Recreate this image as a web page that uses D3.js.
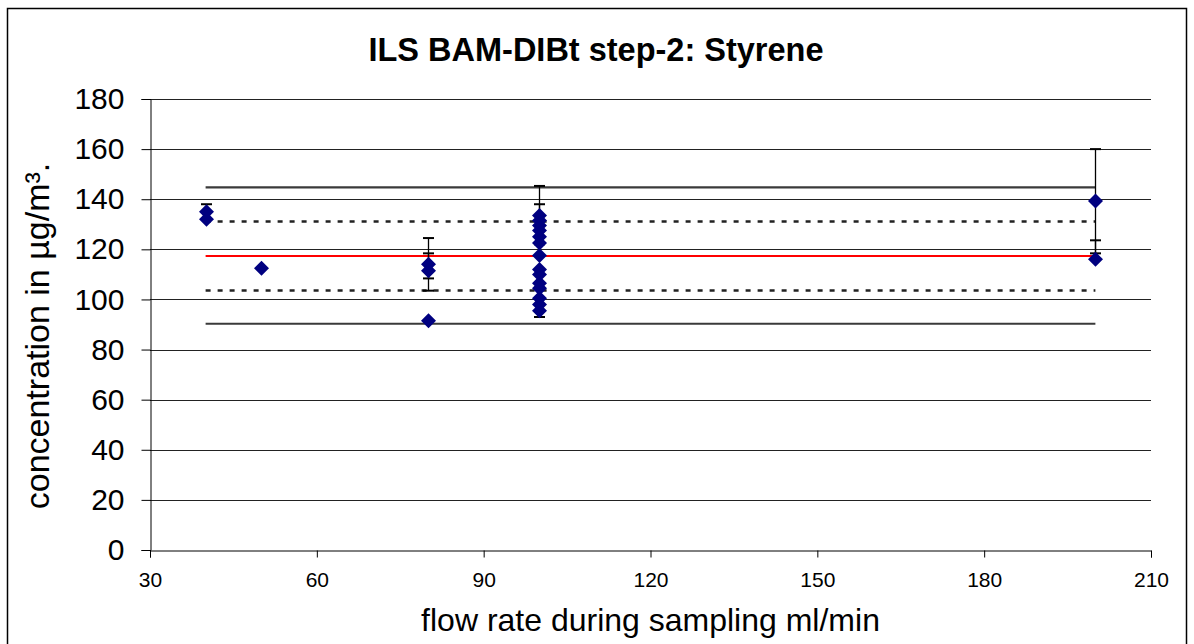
<!DOCTYPE html>
<html><head><meta charset="utf-8">
<script src="https://cdn.jsdelivr.net/npm/d3@7"></script>
<style>body{margin:0;background:#fff}svg{display:block}text{font-family:"Liberation Sans",Arial,sans-serif;fill:#000}</style>
</head><body>
<svg id="c" width="1194" height="644"></svg>
<script>
const title = "ILS BAM-DIBt step-2: Styrene";
const xTitle = "flow rate during sampling ml/min";
const yTitle = "concentration in µg/m³.";
const xTicks = [30, 60, 90, 120, 150, 180, 210];
const yTicks = [0, 20, 40, 60, 80, 100, 120, 140, 160, 180];
const flow = [40, 40, 50, 80, 80, 80,
  100, 100, 100, 100, 100, 100, 100, 100, 100, 100, 100, 100, 100, 100,
  200, 200];
const conc = [135, 132, 112.5, 114, 111.5, 91.5,
  133.5, 131.5, 129.5, 127.5, 125, 122.5, 117.5, 112, 110, 106.5, 104.5, 100.5, 98, 95.5,
  139.3, 116];
const errLow = [132, null, null, 103.5, 108.4, null,
  122, 125, null, null, null, null, null, null, null, null, null, null, null, 93,
  118.4, 116];
const errHigh = [138, null, null, 124.5, 118.4, null,
  145.3, 138, null, null, null, null, null, null, null, null, null, null, null, 98,
  160, 123.6];
const lineRange = [40, 200];
const limitLines = [144.7, 90.3];
const warnLines = [131.1, 103.6];
const meanLine = [117.3];

const svg = d3.select("#c");
const L = 150, R = 1151, T = 99, B = 550;
const x = d3.scaleLinear().domain([30, 210]).range([L, R]);
const y = d3.scaleLinear().domain([0, 180]).range([B, T]);

svg.append("rect").attr("x", 7.5).attr("y", 8.5).attr("width", 1179).attr("height", 660)
  .attr("fill", "#fff").attr("stroke", "#000").attr("stroke-width", 1.5);

svg.append("text").attr("x", 596).attr("y", 61).attr("text-anchor", "middle")
  .attr("font-weight", "bold").attr("font-size", 32.5).text(title);

// gridlines
svg.append("g").selectAll("line").data(yTicks.filter(d => d > 0)).join("line")
  .attr("x1", L).attr("x2", R).attr("y1", d => Math.round(y(d)) + 0.5).attr("y2", d => Math.round(y(d)) + 0.5)
  .attr("stroke", "#222").attr("stroke-width", 1);

// axes
const xAxis = svg.append("g").attr("transform", `translate(0,${B + 0.5})`)
  .call(d3.axisBottom(x).tickValues(xTicks).tickSize(7).tickPadding(15).tickFormat(d3.format("d")));
xAxis.select(".domain").attr("stroke", "#000");
xAxis.selectAll("text").attr("font-size", 21).attr("font-family", "Liberation Sans, Arial, sans-serif");
const yAxis = svg.append("g").attr("transform", `translate(${L + 0.5},0)`)
  .call(d3.axisLeft(y).tickValues(yTicks).tickSize(9).tickPadding(17).tickFormat(d3.format("d")));
yAxis.select(".domain").attr("stroke", "#000");
yAxis.selectAll("text").attr("font-size", 30).attr("font-family", "Liberation Sans, Arial, sans-serif");
svg.selectAll(".tick line").attr("stroke", "#000");

svg.append("text").attr("x", (L + R) / 2).attr("y", 631).attr("text-anchor", "middle")
  .attr("font-size", 32).text(xTitle);
svg.append("text").attr("transform", `translate(49,336) rotate(-90)`)
  .attr("text-anchor", "middle").attr("font-size", 34).text(yTitle);

// reference lines
const g = svg.append("g");
g.selectAll(".lim").data(limitLines).join("line")
  .attr("x1", x(lineRange[0])).attr("x2", x(lineRange[1])).attr("y1", d => y(d)).attr("y2", d => y(d))
  .attr("stroke", "#3a3a3a").attr("stroke-width", 2.2);
g.selectAll(".warn").data(warnLines).join("line")
  .attr("x1", x(lineRange[0])).attr("x2", x(lineRange[1])).attr("y1", d => y(d)).attr("y2", d => y(d))
  .attr("stroke", "#222").attr("stroke-width", 2.5).attr("stroke-dasharray", "5,7");
g.selectAll(".mean").data(meanLine).join("line")
  .attr("x1", x(lineRange[0])).attr("x2", x(lineRange[1])).attr("y1", d => y(d)).attr("y2", d => y(d))
  .attr("stroke", "#ff0000").attr("stroke-width", 2);

// error bars
const pts = flow.map((f, i) => ({f, c: conc[i], lo: errLow[i], hi: errHigh[i]}));
const eb = svg.append("g").attr("stroke", "#000").attr("stroke-width", 1.3);
pts.filter(p => p.hi !== null).forEach(p => {
  const cx = Math.round(x(p.f)) + 0.5;
  eb.append("line").attr("x1", cx).attr("x2", cx).attr("y1", y(p.lo)).attr("y2", y(p.hi));
  eb.append("line").attr("x1", cx - 5.5).attr("x2", cx + 5.5).attr("y1", y(p.hi)).attr("y2", y(p.hi)).attr("stroke-width", 2);
  if (p.lo !== p.c) eb.append("line").attr("x1", cx - 5.5).attr("x2", cx + 5.5).attr("y1", y(p.lo)).attr("y2", y(p.lo)).attr("stroke-width", 2);
});

// diamonds
svg.append("g").selectAll("path").data(pts).join("path")
  .attr("transform", p => `translate(${Math.round(x(p.f)) + 0.5},${y(p.c)})`)
  .attr("d", "M0,-7.5L7.5,0L0,7.5L-7.5,0Z")
  .attr("fill", "#000080");
</script>
</body></html>
